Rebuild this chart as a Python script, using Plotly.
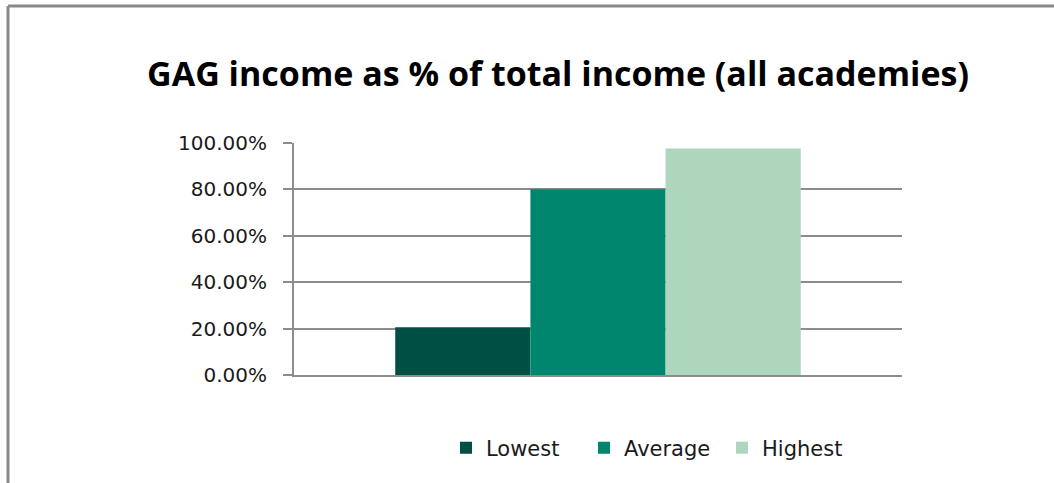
import plotly.graph_objects as go

# Share of GAG income in total income across all academies
series_names = ["Lowest", "Average", "Highest"]
series_values = [0.206, 0.801, 0.976]
series_colors = ["#004F44", "#00866F", "#AED6BD"]
category = [""]

tick_vals = [0, 0.2, 0.4, 0.6, 0.8, 1.0]
tick_text = ["0.00%", "20.00%", "40.00%", "60.00%", "80.00%", "100.00%"]

PLOT_L, PLOT_R, PLOT_T, PLOT_B = 294, 902, 143, 375
W, H = 1054, 483
plot_w = PLOT_R - PLOT_L
plot_h = PLOT_B - PLOT_T

fig = go.Figure()
for name, val, col in zip(series_names, series_values, series_colors):
    fig.add_trace(go.Bar(
        x=category, y=[val], name=name,
        marker=dict(color=col, line=dict(width=0)),
    ))

fig.update_layout(
    width=W, height=H,
    margin=dict(l=PLOT_L, r=W - PLOT_R, t=PLOT_T, b=H - PLOT_B, autoexpand=False),
    paper_bgcolor="white", plot_bgcolor="white",
    barmode="group", bargap=0.333, bargroupgap=0,
    font=dict(family="DejaVu Sans", size=20, color="#1a1a1a"),
    title=dict(
        text="<b>GAG income as % of total income (all academies)</b>",
        x=558 / W, xanchor="center", xref="container",
        y=1 - 74 / H, yanchor="middle", yref="container",
        font=dict(family="Open Sans", size=34, color="#000000"),
    ),
    showlegend=True,
    legend=dict(
        orientation="h", x=(446 - PLOT_L) / plot_w, xanchor="left",
        y=-(448 - PLOT_B) / plot_h, yanchor="middle",
        font=dict(family="DejaVu Sans", size=21, color="#1a1a1a"),
        itemwidth=30, traceorder="normal",
        entrywidth=93, entrywidthmode="pixels",
    ),
    xaxis=dict(
        showgrid=False, showticklabels=False, showline=True,
        linecolor="#8c8c8c", linewidth=2, ticks="",
    ),
    yaxis=dict(
        range=[0, 1.0], tickvals=tick_vals, ticktext=tick_text,
        showgrid=True, gridcolor="#8c8c8c", gridwidth=1.5,
        showline=True, linecolor="#8c8c8c", linewidth=2,
        ticks="outside", ticklen=9, tickcolor="#8c8c8c", tickwidth=1.5,
        ticklabelstandoff=12, zeroline=False,
    ),
)

# Outer chart frame: top and left edges
frame_top = 1 + (PLOT_T - 6) / plot_h
frame_left = -(PLOT_L - 8) / plot_w
fig.add_shape(type="line", xref="x domain", yref="y domain",
              x0=frame_left, x1=(W - PLOT_L) / plot_w,
              y0=frame_top, y1=frame_top,
              line=dict(color="#8a8a8a", width=3))
fig.add_shape(type="line", xref="x domain", yref="y domain",
              x0=frame_left, x1=frame_left,
              y0=-(H - PLOT_B + 5) / plot_h, y1=frame_top,
              line=dict(color="#8a8a8a", width=3))

fig.write_html("out.html")
